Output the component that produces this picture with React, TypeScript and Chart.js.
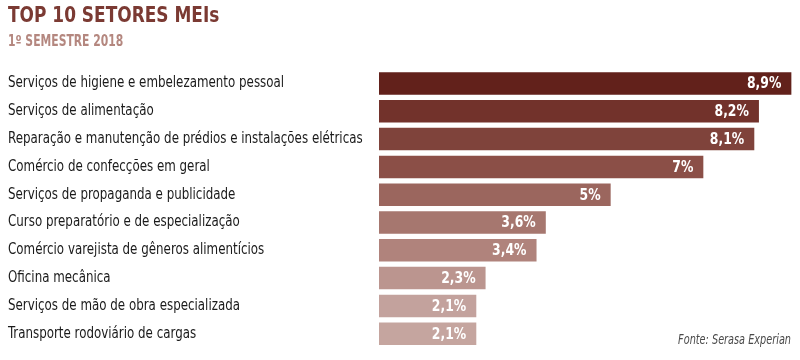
import React, { useEffect, useRef } from "react";
import { Chart, registerables } from "chart.js";

Chart.register(...registerables);

const categories = [
  "Serviços de higiene e embelezamento pessoal",
  "Serviços de alimentação",
  "Reparação e manutenção de prédios e instalações elétricas",
  "Comércio de confecções em geral",
  "Serviços de propaganda e publicidade",
  "Curso preparatório e de especialização",
  "Comércio varejista de gêneros alimentícios",
  "Oficina mecânica",
  "Serviços de mão de obra especializada",
  "Transporte rodoviário de cargas",
];
const values = [8.9, 8.2, 8.1, 7, 5, 3.6, 3.4, 2.3, 2.1, 2.1];
const valueLabels = ["8,9%", "8,2%", "8,1%", "7%", "5%", "3,6%", "3,4%", "2,3%", "2,1%", "2,1%"];
const barColors = [
  "#62211b", "#72322b", "#7f433b", "#8b4f47", "#9b665e",
  "#a6776f", "#b0837c", "#bb958f", "#c3a29d", "#c5a59f",
];
const titleText = "TOP 10 SETORES MEIs";
const subtitleText = "1º SEMESTRE 2018";
const sourceText = "Fonte: Serasa Experian";

const FONT = "'DejaVu Sans Condensed', 'Liberation Sans Narrow', sans-serif";

function drawText(
  ctx: CanvasRenderingContext2D,
  text: string,
  x: number,
  y: number,
  font: string,
  color: string,
  sx: number,
  align: CanvasTextAlign,
  baseline: CanvasTextBaseline
) {
  ctx.save();
  ctx.font = font;
  ctx.fillStyle = color;
  ctx.textAlign = align;
  ctx.textBaseline = baseline;
  ctx.translate(x, y);
  ctx.scale(sx, 1);
  ctx.fillText(text, 0, 0);
  ctx.restore();
}

const textPlugin = {
  id: "textPlugin",
  afterDatasetsDraw(chart: any) {
    const ctx = chart.ctx;
    // title and subtitle
    drawText(ctx, titleText, 8, 22, `bold 20.5px ${FONT}`, "#7b3a33", 0.92, "left", "alphabetic");
    drawText(ctx, subtitleText, 8, 46, `bold 15px ${FONT}`, "#b4877f", 0.8, "left", "alphabetic");
    // source
    drawText(ctx, sourceText, 791, 344, `italic 13.5px ${FONT}`, "#4a4a4a", 0.8, "right", "alphabetic");
    // category labels from the y scale
    const yScale = chart.scales.y;
    const labels = yScale.getLabels();
    labels.forEach((lab: string, i: number) => {
      const y = yScale.getPixelForValue(i);
      drawText(ctx, lab, 8, y, `15px ${FONT}`, "#1a1a1a", 0.88, "left", "middle");
    });
    // value labels
    const meta = chart.getDatasetMeta(0);
    meta.data.forEach((bar: any, i: number) => {
      drawText(ctx, valueLabels[i], bar.x - 10, bar.y + 1, `bold 15px ${FONT}`, "#ffffff", 0.92, "right", "middle");
    });
  },
};

export default function App() {
  const ref = useRef<HTMLCanvasElement | null>(null);
  useEffect(() => {
    if (!ref.current) return;
    const chart = new Chart(ref.current, {
      type: "bar",
      data: {
        labels: categories,
        datasets: [
          {
            data: values,
            backgroundColor: barColors,
            borderWidth: 0,
            categoryPercentage: 1,
            barPercentage: 0.81,
          },
        ],
      },
      options: {
        indexAxis: "y",
        animation: false,
        responsive: false,
        maintainAspectRatio: false,
        layout: { padding: { left: 8, right: 4, top: 69.6, bottom: 12.4 } },
        plugins: {
          legend: { display: false },
          tooltip: { enabled: false },
          title: { display: false },
        },
        scales: {
          x: {
            display: false,
            min: 0,
            max: 9,
          },
          y: {
            grid: { display: false, drawTicks: false },
            border: { display: false },
            ticks: { display: false },
            afterFit(scale: any) {
              scale.width = 371;
            },
          },
        },
      },
      plugins: [textPlugin],
    } as any);
    return () => chart.destroy();
  }, []);
  return (
    <div style={{ position: "fixed", left: 0, top: 0, width: 800, height: 360, background: "#fff" }}>
      <canvas ref={ref} width={800} height={360} style={{ width: 800, height: 360 }} />
    </div>
  );
}
